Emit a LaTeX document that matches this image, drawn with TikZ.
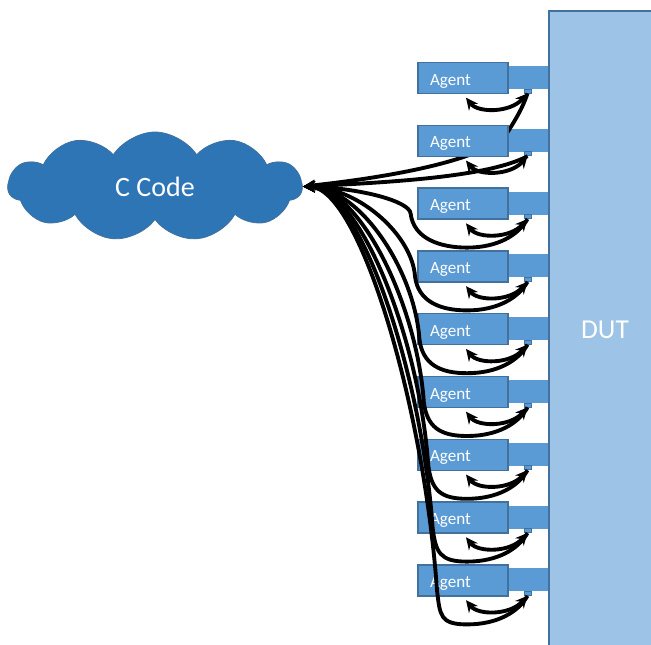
\documentclass[tikz,border=0pt]{standalone}
\usepackage{fontspec}
\setmainfont{Carlito}
\usetikzlibrary{shapes.symbols,arrows.meta}
\definecolor{agentblue}{HTML}{5B9BD5}
\definecolor{edgeblue}{HTML}{41719C}
\definecolor{cloudblue}{HTML}{2E75B6}
\definecolor{dutblue}{HTML}{9DC3E6}
\begin{document}
\begin{tikzpicture}[x=0.75pt,y=-0.75pt,
  agentbox/.style={draw=edgeblue, line width=1.1pt, fill=agentblue,
    minimum height=31*0.75pt, text width=66*0.75pt, inner xsep=12*0.75pt,
    inner ysep=0pt, text height=12pt, text depth=1.5pt,
    align=left, text=white, font=\fontsize{12.8}{14}\selectfont},
  barbox/.style={fill=agentblue, minimum width=40*0.75pt,
    minimum height=23*0.75pt, inner sep=0pt},
  portbox/.style={fill=agentblue, draw=edgeblue, line width=0.6pt,
    minimum width=7*0.75pt, minimum height=4*0.75pt, inner sep=0pt},
  dutbox/.style={fill=dutblue, draw=edgeblue, line width=1.5pt,
    minimum width=110*0.75pt, minimum height=650*0.75pt, inner sep=0pt},
  dutlabel/.style={text=white, font=\fontsize{20.5}{24}\selectfont},
  codecloud/.style={cloud, cloud puffs=11, cloud puff arc=115, aspect=2.75,
    fill=cloudblue, draw=edgeblue, line width=0.6pt, text=white,
    minimum width=294*0.75pt, minimum height=109*0.75pt,
    font=\fontsize{21}{25}\selectfont},
  link/.style={line width=2.9pt, black},
  dbl/.style={link, {Stealth[length=9pt,width=8.5pt]}-{Stealth[length=9pt,width=8.5pt]}},
  feed/.style={link, {Stealth[length=9pt,width=8.5pt]}-}
]
\useasboundingbox (0,0) rectangle (651,644);

% connector bars reaching into the DUT
\foreach \k in {1,...,9}{
  \pgfmathsetmacro{\yk}{78+62.8*(\k-1)}
  \node[barbox] (b\k) at (528,\yk-0.5) {};
}

% device under test
\node[dutbox, anchor=north west] (dut) at (548,10) {};
\node[dutlabel] (duttext) at (605,330) {DUT};

% C code cloud
\node[codecloud] (cloud) at (155,186.5) {C Code};

% ports under the bars
\foreach \k in {1,...,9}{
  \pgfmathsetmacro{\yk}{78+62.8*(\k-1)}
  \node[portbox] (p\k) at (527.5,\yk+13) {};
}

% link to the first port runs behind the second agent
\draw[feed] (cloud.east) .. controls (400,176) and (492,158) .. (509,130)
  .. controls (517,117) and (523,107) .. (p1.south);

% agents
\foreach \k in {1,...,9}{
  \pgfmathsetmacro{\yk}{78+62.8*(\k-1)}
  \node[agentbox] (a\k) at (463,\yk) {Agent};
}

% link to the second port
\draw[feed] (cloud.east) .. controls (400,182) and (490,176) .. (p2.south);

% fan of links from the C code down to the remaining ports
\foreach \k in {3,...,9}{
  \pgfmathsetmacro{\yk}{78+62.8*(\k-1)}
  \pgfmathsetmacro{\xt}{415+0.07*(\yk-266)}
  \pgfmathsetmacro{\yt}{\yk+10}
  \pgfmathsetmacro{\ll}{0.45*(\yt-186)}
  \pgfmathsetmacro{\cx}{\xt-0.07*\ll}
  \pgfmathsetmacro{\cy}{\yt-\ll}
  \draw[feed] (cloud.east) .. controls (360,188) and (\cx,\cy) .. (\xt,\yt)
    .. controls (\xt+3,\yk+35) and (440,\yk+44) .. (467,\yk+44)
    .. controls (497,\yk+44) and (518,\yk+32) .. (p\k.south);
}

% agent <-> port handshakes
\foreach \k in {1,...,9}{
  \pgfmathsetmacro{\yk}{78+62.8*(\k-1)}
  \draw[dbl] ([shift={(3*0.75pt,-3.5*0.75pt)}]a\k.south)
    .. controls (478,\yk+35) and (510,\yk+35) .. (p\k.south);
}
\end{tikzpicture}
\end{document}
